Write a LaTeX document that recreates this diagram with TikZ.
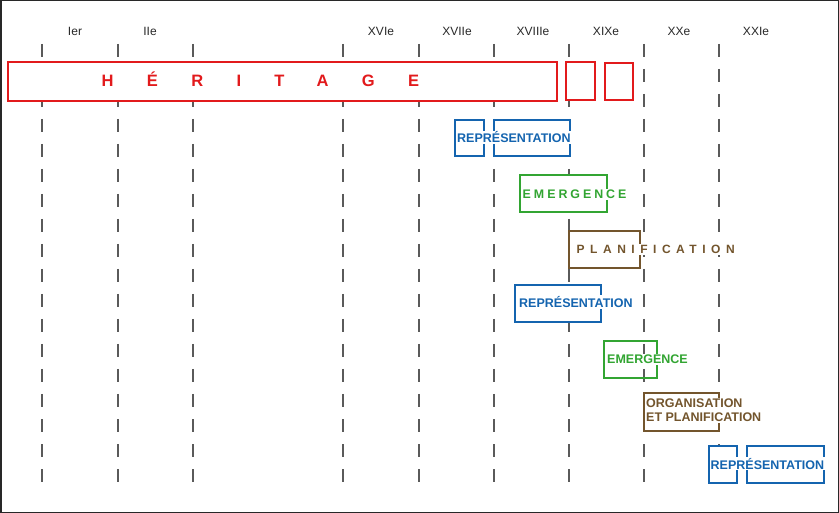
\documentclass[tikz,border=0pt]{standalone}
\usepackage{fontspec}
\setmainfont{Liberation Sans}
\newfontfamily\heritagefont{Liberation Sans}[LetterSpace=202]
\newfontfamily\emergfont{Liberation Sans}[LetterSpace=24]
\newfontfamily\planfont{Liberation Sans}[LetterSpace=46]

\definecolor{heritred}{RGB}{226,26,28}
\definecolor{repblue}{RGB}{20,100,175}
\definecolor{emgreen}{RGB}{50,165,50}
\definecolor{planbrown}{RGB}{115,85,45}
\definecolor{framegray}{RGB}{40,40,40}
\definecolor{dashgray}{RGB}{90,90,90}

\tikzset{
  century/.style={anchor=base, text=framegray, font=\fontsize{12}{14}\selectfont},
  dashline/.style={dashgray, line width=1.4pt, dash pattern=on 13pt off 12pt},
  period/.style={line width=1.4pt, fill=white},
  label/.style={anchor=base west, fill=white, inner sep=1pt,
                font=\fontsize{12.5}{14}\selectfont\bfseries}
}

\begin{document}
\begin{tikzpicture}[x=1pt, y=-1pt]

    \useasboundingbox (0,0) rectangle (839,513);
    \draw[framegray, line width=1.5pt] (0.75,0.75) rectangle (838.25,512.25);

    % Centuries
    \node[century] (c1)  at ( 75,36) {Ier};
    \node[century] (c2)  at (150,36) {IIe};
    \node[century] (c16) at (381,36) {XVIe};
    \node[century] (c17) at (457,36) {XVIIe};
    \node[century] (c18) at (533,36) {XVIIIe};
    \node[century] (c19) at (606,36) {XIXe};
    \node[century] (c20) at (679,36) {XXe};
    \node[century] (c21) at (756,36) {XXIe};

    % Time lines
    \foreach \x in {42,118,193,343,419,494,569,644,719}
        \draw[dashline] (\x,44) -- (\x,483);

    % Heritage
    \draw[period, draw=heritred] (  8,62) rectangle (557,101);
    \draw[period, draw=heritred] (566,62) rectangle (595,100);
    \draw[period, draw=heritred] (605,63) rectangle (633,100);
    \node[anchor=base west, inner sep=0pt, text=heritred,
          font=\heritagefont\fontsize{16.5}{18}\selectfont\bfseries]
          (herit) at (101.5,87) {HÉRITAGE};

    % First cycle
    \draw[period, draw=repblue] (455,120) rectangle (484,156);
    \draw[period, draw=repblue] (494,120) rectangle (570,156);
    \node[label, text=repblue] (rep1) at (456,143) {REPRÉSENTATION};

    \draw[period, draw=emgreen] (520,175) rectangle (607,212);
    \node[label, text=emgreen, font=\emergfont\fontsize{12.4}{14}\selectfont\bfseries]
          (emerg1) at (521.5,198.5) {EMERGENCE};

    \draw[period, draw=planbrown] (569,231) rectangle (640,268);
    \node[label, text=planbrown, font=\planfont\fontsize{12}{14}\selectfont\bfseries]
          (plan1) at (575.5,253.5) {PLANIFICATION};

    % Second cycle
    \draw[period, draw=repblue] (515,285) rectangle (601,322);
    \node[label, text=repblue] (rep2) at (518,307.5) {REPRÉSENTATION};

    \draw[line width=1.4pt, draw=emgreen] (604,341) rectangle (657,378);
    \node[label, text=emgreen] (emerg2) at (606,363.5) {EMERGENCE};

    \draw[period, draw=planbrown] (644,393) rectangle (719,431);
    \node[label, text=planbrown, align=left, anchor=north west]
          (plan2) at (645,398) {ORGANISATION\\ET PLANIFICATION};

    % Third cycle
    \draw[period, draw=repblue] (709,446) rectangle (737,483);
    \draw[period, draw=repblue] (747,446) rectangle (824,483);
    \node[label, text=repblue] (rep3) at (709.5,469) {REPRÉSENTATION};

\end{tikzpicture}
\end{document}
